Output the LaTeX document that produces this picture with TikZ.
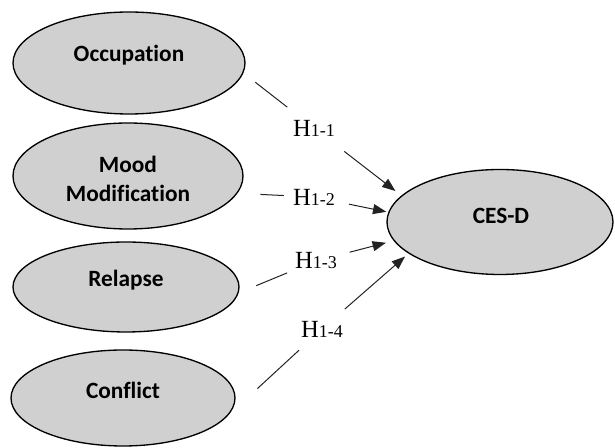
\documentclass[tikz,border=0pt]{standalone}
\usepackage{fontspec}
\setmainfont{Liberation Serif}
\newfontfamily\carlito{Carlito}[Ligatures={NoCommon,NoContextual}]
\usetikzlibrary{shapes.geometric,arrows.meta}
\definecolor{latentgray}{RGB}{208,208,208}
\definecolor{inkgray}{RGB}{35,35,35}
\tikzset{latent/.style = {ellipse, draw=black, line width=1pt, fill=latentgray, inner sep=0pt},
         varname/.style = {font=\carlito\bfseries\fontsize{17.5}{21.75}\selectfont, inner sep=0pt, anchor=base},
         hyp/.style = {circle, minimum size=45pt, inner sep=0pt, font=\fontsize{18.5}{20}\selectfont},
         link/.style = {draw=inkgray, line width=0.75pt},
         effect/.style = {link, -{Triangle[length=10pt, width=7.5pt]}}}
\newcommand{\hyplabel}[1]{H{\fontsize{13.5}{14}\selectfont #1}}

\begin{document}
\begin{tikzpicture}[x=0.75pt, y=-0.75pt]
      \useasboundingbox (0,0) rectangle (615,448);
      \node [latent, minimum width=174pt, minimum height=76.5pt] (occ) at (129,63) {};
      \node [latent, minimum width=172.5pt, minimum height=79.5pt] (mood) at (128,176) {};
      \node [latent, minimum width=169.5pt, minimum height=67.5pt] (rel) at (126,287) {};
      \node [latent, minimum width=168pt, minimum height=72pt] (conf) at (123,398) {};
      \node [latent, minimum width=169.5pt, minimum height=78.75pt] (cesd) at (500,222) {};
      \node [varname] (occ-text) at (129,62) {Occupation};
      \node [varname, align=center] (mood-text) at (128,202) {Mood\\Modification};
      \node [varname] (rel-text) at (126,287) {Relapse};
      \node [varname] (conf-text) at (123,399) {Conflict};
      \node [varname] (cesd-text) at (501,224) {CES-D};
      \node [hyp] (h11) at (314,128) {\hyplabel{1-1}};
      \node [hyp] (h12) at (314,197) {\hyplabel{1-2}};
      \node [hyp] (h13) at (316,261) {\hyplabel{1-3}};
      \node [hyp] (h14) at (322,329) {\hyplabel{1-4}};
      \draw [link, shorten <=11.25pt, shorten >=2.7pt] (occ.-5.5) -- (h11);
      \draw [link, shorten <=17.25pt] (mood.-9.2) -- (h12);
      \draw [link, shorten <=14.25pt, shorten >=0.75pt] (rel.-3.8) -- (h13);
      \draw [link, shorten <=30.75pt, shorten >=0.75pt] (conf.-10) -- (h14);
      \draw [effect, shorten <=6pt, shorten >=5.6pt] (h11) -- (cesd.165.6);
      \draw [effect, shorten <=4.1pt, shorten >=1.5pt] (h12) -- (cesd.175.6);
      \draw [effect, shorten <=3.4pt, shorten >=6pt] (h13) -- (cesd.190);
      \draw [effect, shorten >=3.4pt] (h14) -- (cesd.199.7);
    \end{tikzpicture}
\end{document}
